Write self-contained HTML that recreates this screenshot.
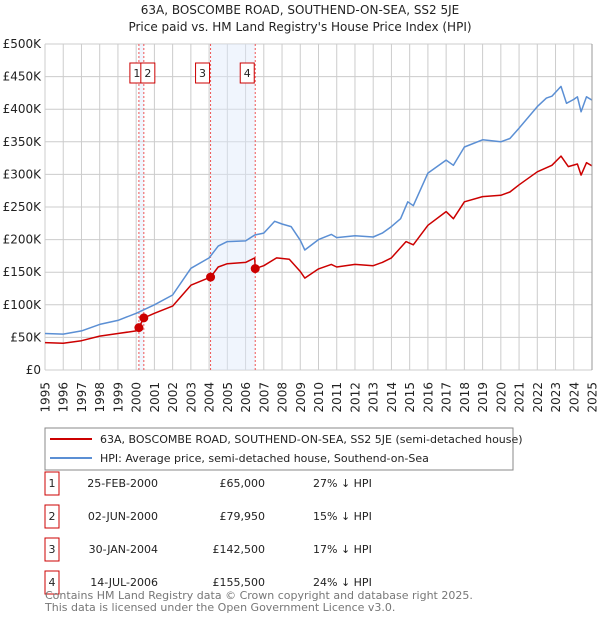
<!DOCTYPE html>
<html><head><meta charset="utf-8">
<style>
body{margin:0;background:#fff;font-family:"Liberation Sans","DejaVu Sans",sans-serif;}
svg text{font-family:"DejaVu Sans","Liberation Sans",sans-serif;}
</style></head>
<body>
<svg id="chart" width="600" height="620" viewBox="0 0 600 620" xmlns="http://www.w3.org/2000/svg">
<text x="300" y="14" text-anchor="middle" font-size="12" fill="#222">63A, BOSCOMBE ROAD, SOUTHEND-ON-SEA, SS2 5JE</text>
<text x="300" y="31" text-anchor="middle" font-size="12" fill="#222">Price paid vs. HM Land Registry's House Price Index (HPI)</text>
<g id="grid"></g>
<g id="shade"></g>
<g id="lines"></g>
<g id="marks"></g>
<g id="axes"></g>
<rect x="45" y="428" width="468" height="42" fill="#fff" stroke="#888"/>
<line x1="50" y1="439" x2="92" y2="439" stroke="#cc0000" stroke-width="2"/>
<text x="100" y="443" font-size="11" fill="#222">63A, BOSCOMBE ROAD, SOUTHEND-ON-SEA, SS2 5JE (semi-detached house)</text>
<line x1="50" y1="458" x2="92" y2="458" stroke="#5b8fd4" stroke-width="2"/>
<text x="100" y="462" font-size="11" fill="#222">HPI: Average price, semi-detached house, Southend-on-Sea</text>
<g id="table" font-size="11" fill="#222"></g>
<text x="45" y="599" font-size="11" fill="#777">Contains HM Land Registry data © Crown copyright and database right 2025.</text>
<text x="45" y="611" font-size="11" fill="#777">This data is licensed under the Open Government Licence v3.0.</text>
</svg>
<script>
const hpiYears=[1995,1996,1997,1998,1999,2000,2001,2002,2003,2004,2004.5,2005,2006,2006.5,2007,2007.6,2008,2008.5,2009,2009.25,2010,2010.7,2011,2012,2013,2013.5,2014,2014.5,2014.9,2015.2,2016,2016.5,2017,2017.4,2018,2019,2020,2020.5,2021,2022,2022.5,2022.8,2023.3,2023.6,2024,2024.2,2024.4,2024.7,2025];
const hpiValues=[56,55,60,70,76,87,100,115,156,172,190,197,198,207,210,228,224,220,199,184,200,208,203,206,204,210,220,232,258,252,302,312,322,314,342,353,350,355,371,404,417,420,435,409,415,419,396,419,414];
const propYears=[1995,1996,1997,1998,1999,2000,2000.15,2000.42,2001,2002,2003,2004.08,2004.5,2005,2006,2006.5,2006.53,2007,2007.7,2008.4,2009,2009.25,2010,2010.7,2011,2012,2013,2013.5,2014,2014.8,2015.2,2016,2017,2017.4,2018,2019,2020,2020.5,2021,2022,2022.8,2023.3,2023.7,2024.2,2024.4,2024.7,2025];
const propValues=[42,41,45,52,56,60,65,79.95,87,98,130,142.5,158,163,165,172,155.5,160,172,170,151,141,155,162,158,162,160,165,172,197,192,222,243,232,258,266,268,273,284,304,314,328,312,316,299,318,313];
const saleIds=["1","2","3","4"];
const saleYears=[2000.15,2000.42,2004.08,2006.53];
const saleValues=[65,79.95,142.5,155.5];
const saleDates=["25-FEB-2000","02-JUN-2000","30-JAN-2004","14-JUL-2006"];
const salePrices=["£65,000","£79,950","£142,500","£155,500"];
const saleDiffs=["27% ↓ HPI","15% ↓ HPI","17% ↓ HPI","24% ↓ HPI"];
const yTicks=[0,50,100,150,200,250,300,350,400,450,500];
const yTickLabels=["£0","£50K","£100K","£150K","£200K","£250K","£300K","£350K","£400K","£450K","£500K"];
const xTicks=[1995,1996,1997,1998,1999,2000,2001,2002,2003,2004,2005,2006,2007,2008,2009,2010,2011,2012,2013,2014,2015,2016,2017,2018,2019,2020,2021,2022,2023,2024,2025];

const X0=45,X1=592,Y0=370,Y1=44;
const xs=y=>X0+(y-1995)/30*(X1-X0);
const ys=v=>Y0-v/500*(Y0-Y1);
const NS="http://www.w3.org/2000/svg";
function mk(parent,tag,attrs){const e=document.createElementNS(NS,tag);for(const k in attrs)e.setAttribute(k,attrs[k]);parent.appendChild(e);return e;}
const grid=document.getElementById('grid'),axes=document.getElementById('axes'),shade=document.getElementById('shade'),lines=document.getElementById('lines'),marks=document.getElementById('marks'),table=document.getElementById('table');

yTicks.forEach((t,i)=>{
 const l=mk(grid,'line',{x1:X0,x2:X1,y1:ys(t),y2:ys(t),stroke:'#cccccc','stroke-width':1});
 
 
 const tx=mk(axes,'text',{x:X0-4,y:ys(t)+4,'text-anchor':'end','font-size':12,fill:'#222'});
 tx.textContent=yTickLabels[i];
 
 
});
xTicks.forEach(t=>{
 const l=mk(grid,'line',{x1:xs(t),x2:xs(t),y1:Y1,y2:Y0,stroke:'#cccccc','stroke-width':1});
 
 
 const px=xs(t)+4.5,py=Y0+12;
 const tx=mk(axes,'text',{x:px,y:py,'text-anchor':'end','font-size':12,fill:'#222'});
 tx.setAttribute('transform','rotate(-90 '+px.toFixed(1)+' '+py+')');
 tx.textContent=String(t);
 
 
});
[[0,1],[2,3]].forEach(p=>{
 const r=mk(shade,'rect',{x:xs(saleYears[p[0]]),y:Y1,width:xs(saleYears[p[1]])-xs(saleYears[p[0]]),height:Y0-Y1,fill:'#dde8fb','fill-opacity':0.45});
 
 
});
saleYears.forEach((y,i)=>{
 const l=mk(shade,'line',{x1:xs(y),x2:xs(y),y1:Y1,y2:Y0,stroke:'#ee5555','stroke-width':1,'stroke-dasharray':'2,2'});
 
 
});
function path(xsArr,vArr,color,name){
 const d=xsArr.map((y,i)=>(i?'L':'M')+xs(y).toFixed(1)+','+ys(vArr[i]).toFixed(1)).join(' ');
 const p=mk(lines,'path',{d:d,fill:'none',stroke:color,'stroke-width':1.5,'stroke-linejoin':'round'});
 
 
}
path(hpiYears,hpiValues,'#5b8fd4','hpi-line');
path(propYears,propValues,'#cc0000','property-line');
mk(axes,'line',{x1:X1,x2:X1,y1:Y1,y2:Y0,stroke:'#999'});
saleYears.forEach((y,i)=>{
 const c=mk(marks,'circle',{cx:xs(y),cy:ys(saleValues[i]),r:4.5,fill:'#cc0000'});
 
 
 const bx=i===0?xs(y)-9:(i===1?xs(y)-3:xs(y)-15);
 const r=mk(marks,'rect',{x:bx,y:63,width:14,height:20,fill:'#fff',stroke:'#cc0000'});
 
 
 const t=mk(marks,'text',{x:bx+7,y:77,'text-anchor':'middle','font-size':11,fill:'#222'});
 t.textContent=saleIds[i];
 
 
});
saleIds.forEach((id,i)=>{
 const cy=483+i*33;
 const r=mk(table,'rect',{x:45,y:cy-11,width:14,height:23,fill:'#fff',stroke:'#cc0000'});
 
 
 const cells=[[52,id,'middle'],[158,saleDates[i],'end'],[265,salePrices[i],'end'],[313,saleDiffs[i],'start']];
 cells.forEach(c=>{
  const t=mk(table,'text',{x:c[0],y:cy+4,'text-anchor':c[2]});
  t.textContent=c[1];
  
  
 });
});
</script>
</body></html>
